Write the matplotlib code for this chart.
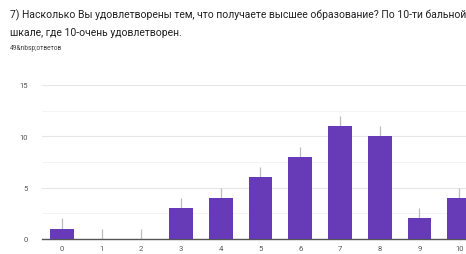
import matplotlib
matplotlib.use("Agg")
import matplotlib.pyplot as plt
import numpy as np

plt.rcParams["font.family"] = ["Roboto", "DejaVu Sans"]

# data
scores = [0, 1, 2, 3, 4, 5, 6, 7, 8, 9, 10]
counts = [1, 0, 0, 3, 4, 6, 8, 11, 10, 2, 4]
y_ticks = [0, 5, 10, 15]

title_1 = "7) Насколько Вы удовлетворены тем, что получаете высшее образование? По 10-ти бальной"
title_2 = "шкале, где 10-очень удовлетворен."
subtitle = "49&nbsp;ответов"

purple = "#673ab7"

fig = plt.figure(figsize=(4.66, 2.55), dpi=100)
ax = fig.add_axes([0.090, 0.059, 0.938, 0.604])

x = np.arange(len(scores))
ax.bar(x, counts, width=0.6, color=purple, zorder=3)
# thin grey marks above each bar
ax.vlines(x, counts, np.array(counts) + 1, color="#bdbdbd", lw=0.9, zorder=2)

ax.set_xlim(-0.5, 10.5)
ax.set_ylim(0, 15)
ax.set_yticks(y_ticks)
ax.set_yticks([2.5, 7.5, 12.5], minor=True)
ax.grid(axis="y", which="major", color="#e6e6e6", lw=0.8, zorder=0)
ax.grid(axis="y", which="minor", color="#f2f2f2", lw=0.6, zorder=0)
ax.set_xticks(x)
ax.set_xticklabels([str(s) for s in scores])
ax.tick_params(axis="both", which="both", length=0, labelsize=5.5, labelcolor="#555555")
ax.tick_params(axis="y", pad=10)
ax.tick_params(axis="x", pad=4)

for side in ["top", "right", "left"]:
    ax.spines[side].set_visible(False)
ax.spines["bottom"].set_color("#555555")
ax.spines["bottom"].set_linewidth(1.0)

fig.text(0.021, 0.94, title_1, fontsize=7.5, color="#202124", va="center")
fig.text(0.021, 0.87, title_2, fontsize=7.5, color="#202124", va="center")
fig.text(0.021, 0.81, subtitle, fontsize=4.8, color="#444444", va="center")

fig.savefig("out.png", dpi=100)
